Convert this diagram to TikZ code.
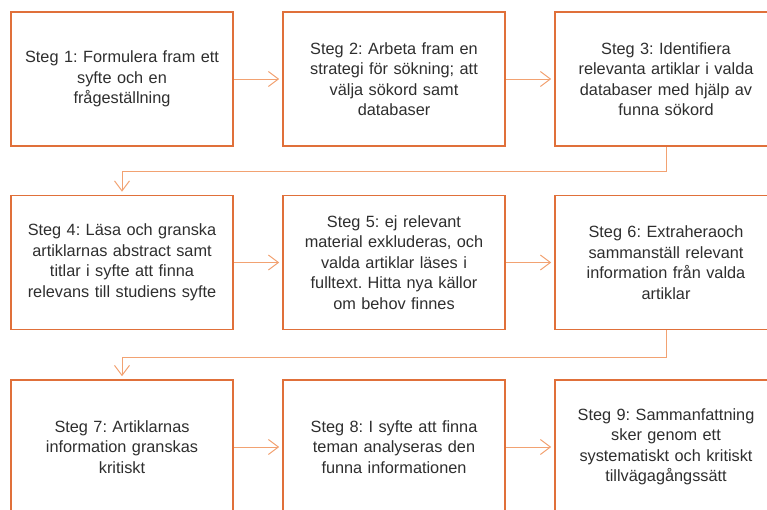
\documentclass[tikz,border=0pt]{standalone}
\usepackage{fontspec}
\setmainfont{Liberation Sans}
\usetikzlibrary{arrows.meta}
\definecolor{boxc}{HTML}{E0703A}
\definecolor{linec}{HTML}{F2A272}
\begin{document}
\frenchspacing
\begin{tikzpicture}[x=1pt,y=-1pt,
  stepbox/.style={draw=boxc,line width=1.6pt,minimum width=222pt,minimum height=134pt,
    text width=222pt,align=center,inner sep=0pt,font=\fontsize{16.3}{20.5}\selectfont,text=black!82},
  conn/.style={draw=linec,line width=1pt,-{Straight Barb[length=10pt,width=15pt,line width=1pt]},shorten >=3pt}]
\useasboundingbox (0,0) rectangle (767,509);
\clip (0,0) rectangle (767,509);
\node[stepbox] (s1) at (122,79) {Steg 1: Formulera fram ett\\syfte och en\\frågeställning};
\node[stepbox] (s2) at (394,79) {Steg 2: Arbeta fram en\\strategi för sökning; att\\välja sökord samt\\databaser};
\node[stepbox] (s3) at (666,79) {Steg 3: Identifiera\\relevanta artiklar i valda\\databaser med hjälp av\\funna sökord};
\node[stepbox] (s4) at (122,262.5) {Steg 4: Läsa och granska\\artiklarnas abstract samt\\titlar i syfte att finna\\relevans till studiens syfte};
\node[stepbox] (s5) at (394,262.5) {Steg 5: ej relevant\\material exkluderas, och\\valda artiklar läses i\\fulltext. Hitta nya källor\\om behov finnes};
\node[stepbox] (s6) at (666,262.5) {Steg 6: Extraheraoch\\sammanställ relevant\\information från valda\\artiklar};
\node[stepbox] (s7) at (122,447) {Steg 7: Artiklarnas\\information granskas\\kritiskt};
\node[stepbox] (s8) at (394,447) {Steg 8: I syfte att finna\\teman analyseras den\\funna informationen};
\node[stepbox] (s9) at (666,447) {Steg 9: Sammanfattning\\sker genom ett\\systematiskt och kritiskt\\tillvägagångssätt};
\draw[conn] (s1) -- (s2);
\draw[conn] (s2) -- (s3);
\draw[conn] (s4) -- (s5);
\draw[conn] (s5) -- (s6);
\draw[conn] (s7) -- (s8);
\draw[conn] (s8) -- (s9);
\draw[conn] (s3.south) -- ++(0,25) -| (s4.north);
\draw[conn] (s6.south) -- ++(0,27) -| (s7.north);
\end{tikzpicture}
\end{document}
